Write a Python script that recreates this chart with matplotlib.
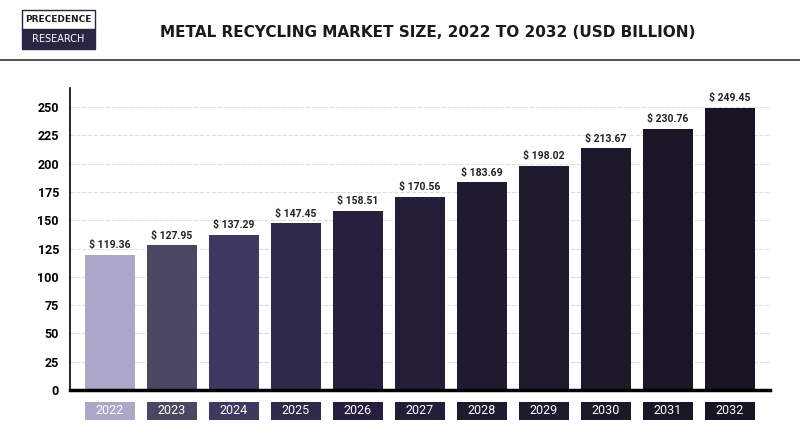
import matplotlib.pyplot as plt
from matplotlib.patches import Rectangle

years = ['2022', '2023', '2024', '2025', '2026', '2027', '2028', '2029', '2030', '2031', '2032']
values = [119.36, 127.95, 137.29, 147.45, 158.51, 170.56, 183.69, 198.02, 213.67, 230.76, 249.45]
colors = ['#aaa7c9', '#4b4762', '#3e3961', '#2f2a4a', '#281f3f', '#241d38', '#201a31',
          '#1f1a2e', '#1c1829', '#1a1626', '#181422']

fig = plt.figure(figsize=(8, 4.36), dpi=100)
ax = fig.add_axes([0.0875, 0.1055, 0.875, 0.693])
x = range(len(years))
ax.bar(x, values, width=0.8, color=colors, zorder=2)
for i, v in enumerate(values):
    ax.text(i, v + 4, f'$ {v:.2f}', ha='center', va='bottom', fontsize=7.5,
            fontweight='bold', color='#222222', family='Roboto')
    ax.add_patch(Rectangle((i - 0.4, -26.5), 0.8, 16, fc=colors[i], ec='none', clip_on=False))
    ax.text(i, -18.5, years[i], ha='center', va='center', fontsize=9, color='white',
            family='Roboto', zorder=3)
ax.set_xlim(-0.645, 10.645)
ax.set_ylim(0, 267)
ax.set_yticks(range(0, 251, 25))
ax.tick_params(axis='y', length=0, labelsize=9, pad=8)
for lab in ax.get_yticklabels():
    lab.set_fontweight('bold')
    lab.set_family('Roboto')
ax.set_xticks([])
ax.grid(axis='y', color='#dddddd', linestyle='--', linewidth=0.8, zorder=0)
for s in ['top', 'right']:
    ax.spines[s].set_visible(False)
ax.spines['left'].set_linewidth(1.2)
ax.spines['bottom'].set_linewidth(2.5)

fig.text(0.535, 0.925, 'METAL RECYCLING MARKET SIZE, 2022 TO 2032 (USD BILLION)', ha='center',
         va='center', fontsize=11, fontweight='bold', family='DejaVu Sans', color='#1a1a1a')
fig.add_artist(plt.Line2D([0, 1], [0.862, 0.862], color='#333333', linewidth=1.2))
fig.add_artist(Rectangle((0.027, 0.888), 0.092, 0.045, fc='#2a2540', ec='#2a2540', lw=1))
fig.add_artist(Rectangle((0.027, 0.933), 0.092, 0.045, fc='white', ec='#2a2540', lw=1))
fig.text(0.073, 0.955, 'PRECEDENCE', ha='center', va='center', fontsize=6.5,
         fontweight='bold', family='DejaVu Sans', color='#1a1a1a')
fig.text(0.073, 0.910, 'RESEARCH', ha='center', va='center', fontsize=7,
         family='DejaVu Sans', color='white')
fig.savefig('out.png', dpi=100)
